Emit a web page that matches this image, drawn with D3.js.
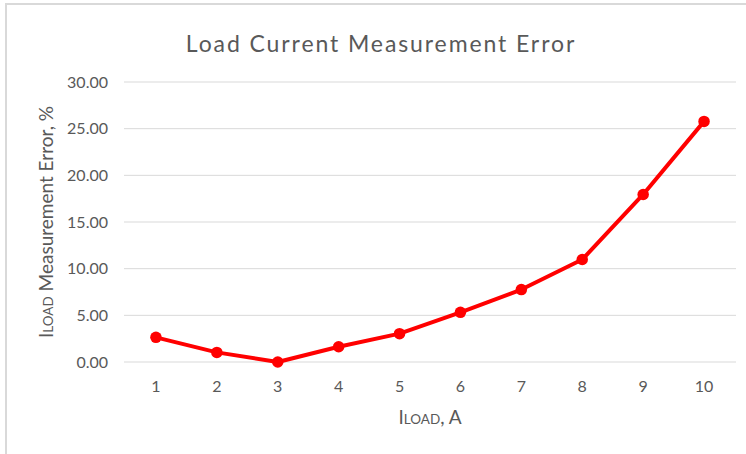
<!DOCTYPE html>
<html><head><meta charset="utf-8">
<script src="https://cdn.jsdelivr.net/npm/d3@7"></script>
<style>body{margin:0;background:#fff}svg{display:block}text{font-family:Lato,"Open Sans",sans-serif}</style>
</head><body><svg id="c" width="746" height="454"></svg>
<script>
const categories = ["1","2","3","4","5","6","7","8","9","10"];
const errorValues = [2.64, 1.03, 0.0, 1.64, 3.04, 5.32, 7.76, 10.98, 17.95, 25.78];
const yTicks = [0, 5, 10, 15, 20, 25, 30];
const titleText = "Load Current Measurement Error";

const svg = d3.select("#c");
// chart border
svg.append("rect").attr("x",6).attr("y",4).attr("width",760).attr("height",470)
  .attr("fill","#fff").attr("stroke","#d9d9d9").attr("stroke-width",2);

const x = d3.scaleBand().domain(categories).range([125.5, 734.5]);
const y = d3.scaleLinear().domain([0,30]).range([362, 82]);

// gridlines
svg.append("g").selectAll("line").data(yTicks).join("line")
  .attr("x1",124).attr("x2",736).attr("y1",d=>y(d)).attr("y2",d=>y(d))
  .attr("stroke","#d9d9d9").attr("stroke-width",1);

// y axis labels
const yAxis = d3.axisLeft(y).tickValues(yTicks).tickFormat(d3.format(".2f")).tickSize(0).tickPadding(0);
const gy = svg.append("g").attr("transform","translate(108,0)").call(yAxis);
gy.select(".domain").remove();
gy.selectAll("text").attr("fill","#595959").style("font-size","16px").style("font-family","Lato,sans-serif");

// x axis labels
const xAxis = d3.axisBottom(x).tickSize(0).tickPadding(0);
const gx = svg.append("g").attr("transform","translate(0,381)").call(xAxis);
gx.select(".domain").remove();
gx.selectAll("text").attr("fill","#595959").style("font-size","16px").style("font-family","Lato,sans-serif");

// line
const line = d3.line().x((d,i)=>x(categories[i])+x.bandwidth()/2).y(d=>y(d));
svg.append("path").datum(errorValues).attr("d",line).attr("fill","none")
  .attr("stroke","#ff0000").attr("stroke-width",4).attr("stroke-linejoin","round");
svg.append("g").selectAll("circle").data(errorValues).join("circle")
  .attr("cx",(d,i)=>x(categories[i])+x.bandwidth()/2).attr("cy",d=>y(d)).attr("r",5.75).attr("fill","#ff0000");

// title
svg.append("text").attr("x",381).attr("y",52).attr("text-anchor","middle")
  .attr("fill","#595959").style("font-size","23px").style("font-weight","400")
  .style("letter-spacing","1.9px").text(titleText);

// x title
const xt = svg.append("text").attr("x",430).attr("y",424).attr("text-anchor","middle")
  .attr("fill","#595959").style("font-size","19px");
xt.append("tspan").text("I");
xt.append("tspan").style("font-size","13.5px").text("LOAD");
xt.append("tspan").text(", A");

// y title
const yt = svg.append("text").attr("transform","translate(53,222) rotate(-90)").attr("text-anchor","middle")
  .attr("fill","#595959").style("font-size","19px");
yt.append("tspan").text("I");
yt.append("tspan").style("font-size","13.5px").text("LOAD");
yt.append("tspan").text(" Measurement Error, %");
</script></body></html>
